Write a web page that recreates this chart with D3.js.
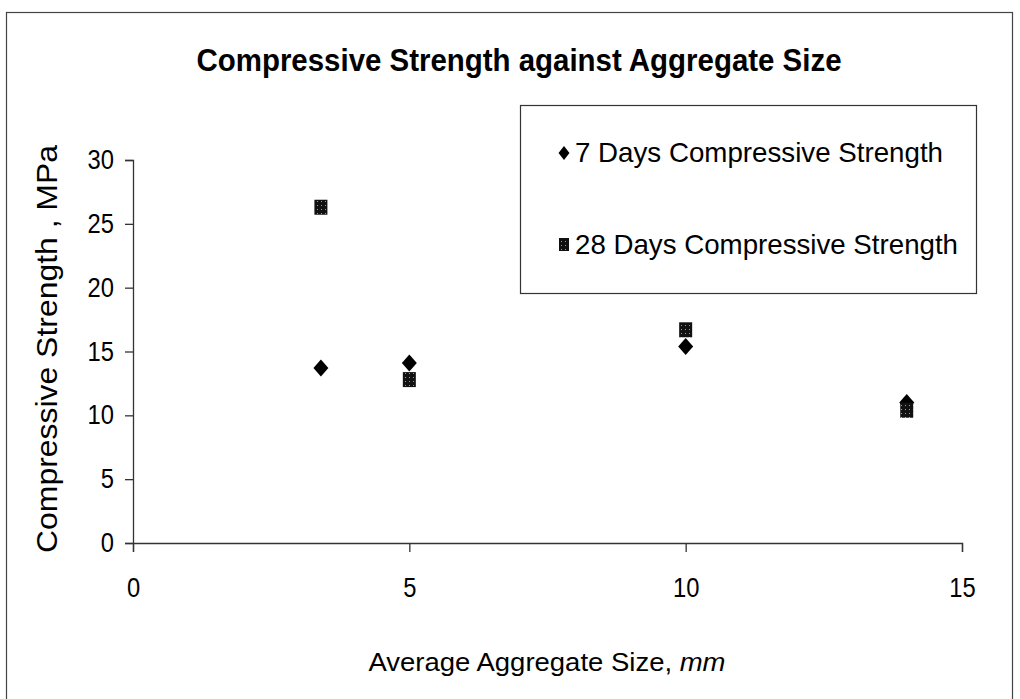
<!DOCTYPE html>
<html>
<head>
<meta charset="utf-8">
<script src="https://cdn.jsdelivr.net/npm/d3@7"></script>
<style>
  body { margin: 0; background: #fff; }
  text { font-family: "Liberation Sans", Arial, sans-serif; fill: #000; }
</style>
</head>
<body>
<svg id="chart" width="1020" height="699"></svg>
<script>
const width = 1020;
const height = 699;

// average aggregate size (mm)
const aggregateSize = [3.4, 5, 10, 14];
// compressive strength (MPa)
const days7 = [13.7, 14.1, 15.4, 11.0];
const days28 = [26.3, 12.8, 16.7, 10.4];

const xTicks = [0, 5, 10, 15];
const yTicks = [0, 5, 10, 15, 20, 25, 30];

const seriesNames = ["7 Days Compressive Strength", "28 Days Compressive Strength"];

const plot = { left: 133, right: 962, top: 160, bottom: 543 };

const svg = d3.select("#chart");

// speckled fill for the square markers
const defs = svg.append("defs");
const pat = defs.append("pattern")
  .attr("id", "speckle")
  .attr("width", 4).attr("height", 4)
  .attr("patternUnits", "userSpaceOnUse");
pat.append("rect").attr("width", 4).attr("height", 4).attr("fill", "#111");
pat.append("rect").attr("x", 1).attr("y", 1).attr("width", 1).attr("height", 1).attr("fill", "#999");

// outer frame
svg.append("rect")
  .attr("x", 6.5).attr("y", 12.5)
  .attr("width", 1006).attr("height", 700)
  .attr("fill", "none")
  .attr("stroke", "#444")
  .attr("stroke-width", 1.2);

const x = d3.scaleLinear().domain([0, 15]).range([plot.left, plot.right]);
const y = d3.scaleLinear().domain([0, 30]).range([plot.bottom, plot.top]);

// stretch or squeeze a text to a given width
function fitWidth(sel, w) {
  sel.attr("textLength", w).attr("lengthAdjust", "spacingAndGlyphs");
}
function squeeze(sel, factor) {
  sel.each(function () {
    const len = this.getComputedTextLength();
    d3.select(this).attr("textLength", len * factor).attr("lengthAdjust", "spacingAndGlyphs");
  });
}

// diamond with its own half width / half height
const diamondType = (hw, hh) => ({
  draw(ctx) {
    ctx.moveTo(0, -hh);
    ctx.lineTo(hw, 0);
    ctx.lineTo(0, hh);
    ctx.lineTo(-hw, 0);
    ctx.closePath();
  }
});

// title
svg.append("text")
  .attr("x", 519).attr("y", 71)
  .attr("text-anchor", "middle")
  .attr("font-size", 32)
  .attr("font-weight", "bold")
  .text("Compressive Strength against Aggregate Size")
  .call(fitWidth, 645);

// axes
const xAxis = svg.append("g")
  .attr("transform", `translate(0, ${plot.bottom})`)
  .call(d3.axisBottom(x).tickValues(xTicks).tickSize(9).tickPadding(26).tickFormat(d3.format("d")));
const yAxis = svg.append("g")
  .attr("transform", `translate(${plot.left}, 0)`)
  .call(d3.axisLeft(y).tickValues(yTicks).tickSize(8).tickPadding(11).tickFormat(d3.format("d")));

[xAxis, yAxis].forEach((g) => {
  g.select(".domain").attr("stroke", "#333").attr("stroke-width", 1.3);
  g.selectAll(".tick line").attr("stroke", "#333").attr("stroke-width", 1.3);
  g.selectAll(".tick text")
    .attr("font-family", "Liberation Sans, Arial, sans-serif")
    .attr("font-size", 27)
    .attr("fill", "#000")
    .call(squeeze, 0.88);
});

// axis titles
svg.append("text")
  .attr("x", 547).attr("y", 671)
  .attr("text-anchor", "middle")
  .attr("font-size", 26)
  .html('Average Aggregate Size, <tspan font-style="italic">mm</tspan>')
  .call(fitWidth, 357);

svg.append("text")
  .attr("transform", `translate(57, 349) rotate(-90)`)
  .attr("text-anchor", "middle")
  .attr("font-size", 30)
  .text("Compressive Strength , MPa")
  .call(fitWidth, 408);

// markers
const diamond = d3.symbol().type(diamondType(7.5, 8.5));

svg.append("g")
  .selectAll("path")
  .data(aggregateSize.map((s, i) => ({ s, v: days7[i] })))
  .join("path")
  .attr("d", diamond)
  .attr("transform", (d) => `translate(${x(d.s)}, ${y(d.v)})`)
  .attr("fill", "#000");

svg.append("g")
  .selectAll("rect")
  .data(aggregateSize.map((s, i) => ({ s, v: days28[i] })))
  .join("rect")
  .attr("x", (d) => x(d.s) - 6.5)
  .attr("y", (d) => y(d.v) - 7.5)
  .attr("width", 13)
  .attr("height", 15)
  .attr("fill", "url(#speckle)");

// legend
const legend = svg.append("g");
legend.append("rect")
  .attr("x", 520.5).attr("y", 105.5)
  .attr("width", 456).attr("height", 188)
  .attr("fill", "#fff")
  .attr("stroke", "#333")
  .attr("stroke-width", 1.2);

const legendRows = [162, 254];
legend.selectAll("text")
  .data(seriesNames)
  .join("text")
  .attr("x", 575)
  .attr("y", (d, i) => legendRows[i])
  .attr("font-size", 28)
  .text((d) => d)
  .call(fitWidth, 368);
legend.select("text:nth-of-type(2)").call(fitWidth, 383);

legend.append("path")
  .attr("d", d3.symbol().type(diamondType(5.5, 7)))
  .attr("transform", `translate(564, ${legendRows[0] - 9})`)
  .attr("fill", "#000");
legend.append("rect")
  .attr("x", 559).attr("y", legendRows[1] - 16)
  .attr("width", 10).attr("height", 13)
  .attr("fill", "url(#speckle)");
</script>
</body>
</html>
